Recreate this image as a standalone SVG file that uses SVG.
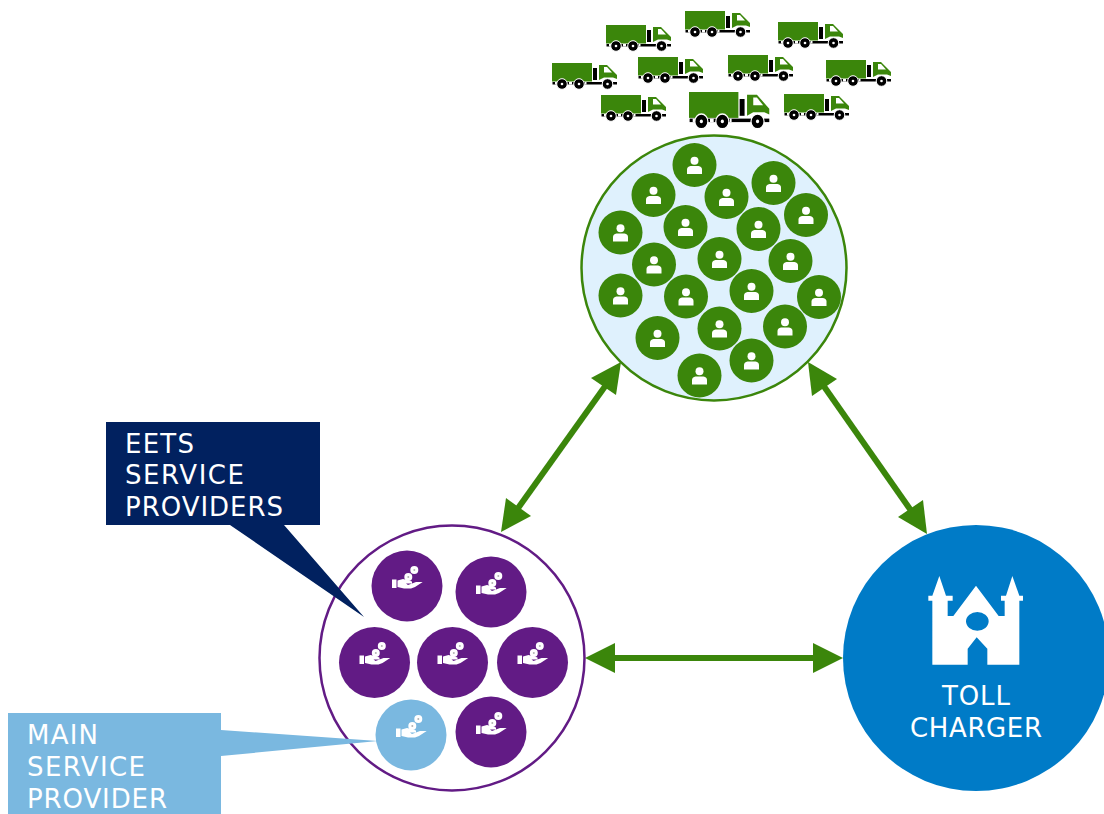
<svg xmlns="http://www.w3.org/2000/svg" xmlns:xlink="http://www.w3.org/1999/xlink" width="1104" height="814" viewBox="0 0 1104 814">
<style>
.lbl{font-family:"DejaVu Sans",Verdana,sans-serif;font-size:26px;fill:#fff}
.conn{stroke:#3B860B;stroke-width:6;fill:none}
.hd{fill:#3B860B}
.g{fill:#3B860B}
.k{fill:#000}
.w{fill:#fff}
.wh{fill:#000;stroke:#fff;stroke-width:1}
</style>
<defs>
<g id="truck">
<rect class="g" x="0" y="0" width="40" height="18.500"/>
<rect class="k" x="41" y="5" width="4" height="12"/>
<path class="g" d="M47 2H55L65 12V16L61 14.500H52L47 17Z"/>
<path class="w" d="M52 4H55L60 9.500H52Z"/>
<rect class="k" x="0.500" y="19" width="64.500" height="2.500"/>
<rect class="w" x="3" y="19" width="2" height="2.500"/>
<rect class="w" x="17" y="19" width="3" height="2.500"/>
<rect class="w" x="33" y="19" width="1.500" height="2.500"/>
<circle class="wh" cx="10" cy="21" r="5.300"/><circle class="w" cx="10" cy="21" r="1.300"/>
<circle class="wh" cx="27" cy="21" r="5.300"/><circle class="w" cx="27" cy="21" r="1.300"/>
<circle class="wh" cx="55.500" cy="21" r="5.300"/><circle class="w" cx="55.500" cy="21" r="1.300"/>
</g>
<g id="person">
<circle class="g" r="22"/>
<circle class="w" cy="-4.300" r="4"/>
<path class="w" d="M-7.500 9V4.500Q-7.500 1.500 -4 1H4Q7.500 1.500 7.500 4.500V9Z"/>
</g>
<g id="hand">
<rect class="w" x="-15" y="-7.500" width="4.500" height="8.500"/>
<path class="w" d="M-9.500 -6.500L-4 -8L2 -6.500L5 -5.500V-3.500H-1L1 -2L9 -5L15.700 -5L8 0L4 1.500H-3L-9.500 0Z"/>
<circle class="w" cx="7.300" cy="-17" r="4"/>
<circle class="w" cx="1.300" cy="-10" r="4"/>
<circle fill="#000" fill-opacity=".3" cx="7.300" cy="-17" r="1"/>
<circle fill="#000" fill-opacity=".3" cx="1.300" cy="-10" r="1"/>
</g>
</defs>

<g id="trucks">
<use xlink:href="#truck" href="#truck" x="606" y="25"/>
<use xlink:href="#truck" href="#truck" x="685" y="11"/>
<use xlink:href="#truck" href="#truck" x="778" y="22"/>
<use xlink:href="#truck" href="#truck" x="552" y="63"/>
<use xlink:href="#truck" href="#truck" x="638" y="57"/>
<use xlink:href="#truck" href="#truck" x="728" y="55"/>
<use xlink:href="#truck" href="#truck" x="826" y="60"/>
<use xlink:href="#truck" href="#truck" x="601" y="95"/>
<use xlink:href="#truck" href="#truck" x="784" y="94"/>
<use xlink:href="#truck" href="#truck" transform="translate(689 92) scale(1.235 1.4)"/>
</g>

<g id="users">
<circle cx="714" cy="268" r="132.500" fill="#DFF1FD" stroke="#3B860B" stroke-width="2.500"/>
<use xlink:href="#person" href="#person" x="694.500" y="165"/>
<use xlink:href="#person" href="#person" x="773.500" y="183"/>
<use xlink:href="#person" href="#person" x="653.500" y="195"/>
<use xlink:href="#person" href="#person" x="726.500" y="197"/>
<use xlink:href="#person" href="#person" x="806" y="215"/>
<use xlink:href="#person" href="#person" x="620.500" y="232.500"/>
<use xlink:href="#person" href="#person" x="685.500" y="227"/>
<use xlink:href="#person" href="#person" x="758.500" y="229"/>
<use xlink:href="#person" href="#person" x="654" y="264.500"/>
<use xlink:href="#person" href="#person" x="719.500" y="259"/>
<use xlink:href="#person" href="#person" x="790.500" y="261"/>
<use xlink:href="#person" href="#person" x="620.500" y="295.500"/>
<use xlink:href="#person" href="#person" x="686" y="296.500"/>
<use xlink:href="#person" href="#person" x="751.500" y="291"/>
<use xlink:href="#person" href="#person" x="819" y="297"/>
<use xlink:href="#person" href="#person" x="657.500" y="338"/>
<use xlink:href="#person" href="#person" x="719.500" y="328.500"/>
<use xlink:href="#person" href="#person" x="785" y="326.500"/>
<use xlink:href="#person" href="#person" x="751.500" y="360.500"/>
<use xlink:href="#person" href="#person" x="699.500" y="375.500"/>
</g>

<g id="connectors">
<line class="conn" x1="606" y1="385" x2="516" y2="511"/>
<polygon class="hd" points="621,362 591,378 616,395"/>
<polygon class="hd" points="501,532 506,498 531,516"/>
<line class="conn" x1="823" y1="385" x2="912" y2="512"/>
<polygon class="hd" points="808,362 837,379 812,396"/>
<polygon class="hd" points="927,534 923,500 898,517"/>
<line class="conn" x1="612" y1="658" x2="816" y2="658"/>
<polygon class="hd" points="585,658 615,643 615,673"/>
<polygon class="hd" points="843,658 813,643 813,673"/>
</g>

<g id="providers">
<circle cx="452" cy="658" r="132.500" fill="#fff" stroke="#621B85" stroke-width="2.500"/>
<g fill="#621B85">
<circle cx="407" cy="586" r="35.500"/>
<circle cx="491" cy="592" r="35.500"/>
<circle cx="374.500" cy="662.500" r="35.500"/>
<circle cx="452.500" cy="662.500" r="35.500"/>
<circle cx="532.500" cy="662.500" r="35.500"/>
<circle cx="491" cy="732" r="35.500"/>
</g>
<circle cx="411" cy="735" r="35.500" fill="#7AB8E0"/>
<use xlink:href="#hand" href="#hand" x="407" y="587"/>
<use xlink:href="#hand" href="#hand" x="491" y="593"/>
<use xlink:href="#hand" href="#hand" x="374.500" y="663"/>
<use xlink:href="#hand" href="#hand" x="452.500" y="663"/>
<use xlink:href="#hand" href="#hand" x="532.500" y="663"/>
<use xlink:href="#hand" href="#hand" x="491" y="733"/>
<use xlink:href="#hand" href="#hand" x="411" y="736"/>
</g>

<g id="toll-charger">
<circle cx="976" cy="658" r="133" fill="#007BC7"/>
<path class="w" transform="translate(900 560) scale(.33333)" fill-rule="evenodd" d="M118 48L138 107H158V122H143V168H160L228 77L296 168H314V122H303V107H318L337 48L358 107H369V122H358V314H262V266L230 232L203 266V314H97V122H85V107H97ZM266 184A34 28 0 1 0 198 184A34 28 0 1 0 266 184Z"/>
<text class="lbl" x="942" y="705" textLength="68" lengthAdjust="spacing">TOLL</text>
<text class="lbl" x="910" y="737" textLength="132" lengthAdjust="spacing">CHARGER</text>
</g>

<g id="eets-callout">
<path fill="#01215F" d="M106 422H320V525H284L364 617L230 525H106Z"/>
<text class="lbl" x="125" y="453" textLength="69" lengthAdjust="spacing">EETS</text>
<text class="lbl" x="125" y="484" textLength="119" lengthAdjust="spacing">SERVICE</text>
<text class="lbl" x="125" y="516" textLength="158" lengthAdjust="spacing">PROVIDERS</text>
</g>

<g id="main-callout">
<path fill="#7AB8E0" d="M8 713H221V730L378 741L221 756V814H8Z"/>
<text class="lbl" x="27" y="744" textLength="71" lengthAdjust="spacing">MAIN</text>
<text class="lbl" x="27" y="776" textLength="118" lengthAdjust="spacing">SERVICE</text>
<text class="lbl" x="27" y="808" textLength="140" lengthAdjust="spacing">PROVIDER</text>
</g>
</svg>
